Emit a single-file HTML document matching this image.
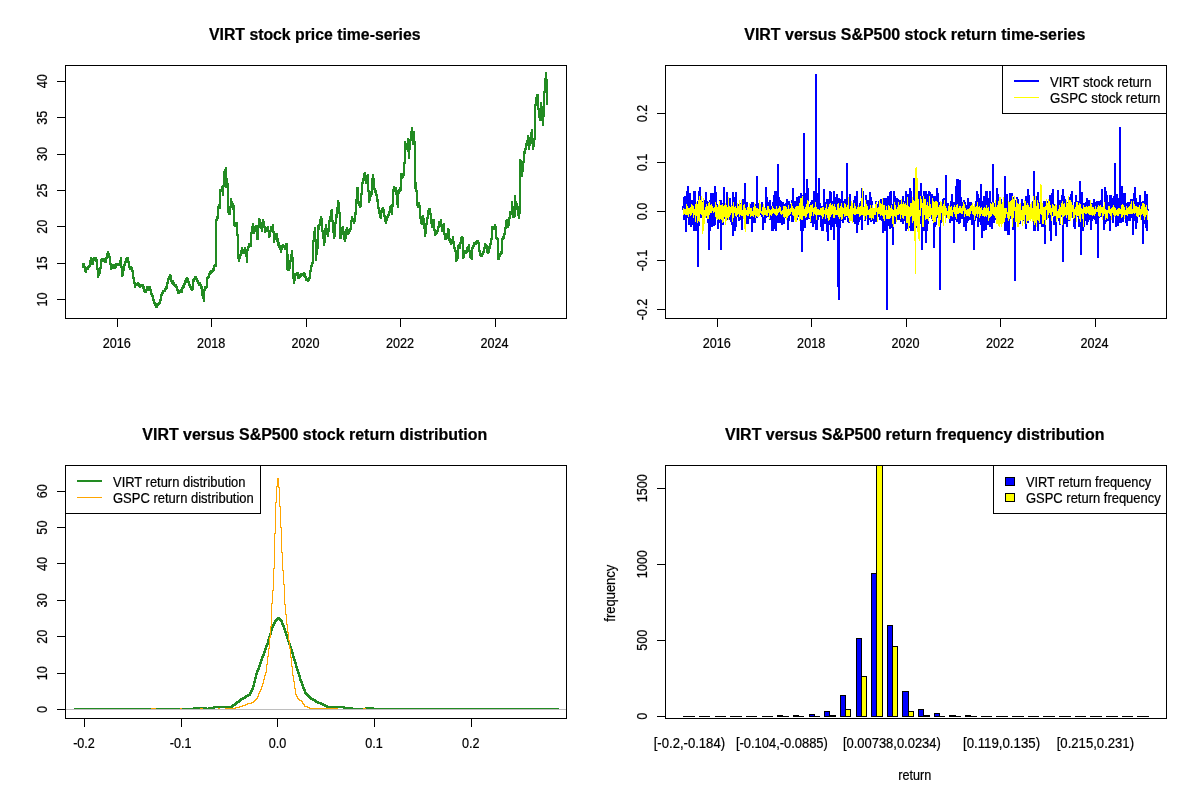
<!DOCTYPE html>
<html><head><meta charset="utf-8"><title>VIRT versus S&amp;P500</title>
<style>html,body{margin:0;padding:0;background:#fff}svg{display:block}text{font-family:'Liberation Sans', sans-serif;fill:#000;stroke:#000;stroke-width:0.22px}</style>
</head><body>
<svg width="1200" height="800" viewBox="0 0 1200 800">
<rect width="1200" height="800" fill="#fff"/>
<g shape-rendering="crispEdges">
<text x="314.8" y="39.7" text-anchor="middle" font-size="16" font-weight="bold" textLength="211.5" lengthAdjust="spacingAndGlyphs">VIRT stock price time-series</text>
<path d="M82 263v5h1v-5zM83 263v5h1v-5zM84 263v9h1v-9zM85 266v7h1v-7zM86 267v6h1v-6zM87 266v4h1v-4zM88 265v5h1v-5zM89 260v8h1v-8zM90 257v10h1v-10zM91 257v8h1v-8zM92 258v7h1v-7zM93 257v8h1v-8zM94 257v4h1v-4zM95 257v5h1v-5zM96 257v13h1v-13zM97 259v19h1v-19zM98 268v10h1v-10zM99 267v9h1v-9zM100 259v15h1v-15zM101 258v11h1v-11zM102 258v4h1v-4zM103 258v4h1v-4zM104 258v5h1v-5zM105 257v6h1v-6zM106 253v10h1v-10zM107 251v8h1v-8zM108 251v7h1v-7zM109 253v12h1v-12zM110 256v14h1v-14zM111 263v7h1v-7zM112 264v5h1v-5zM113 264v5h1v-5zM114 264v5h1v-5zM115 263v6h1v-6zM116 263v5h1v-5zM117 263v3h1v-3zM118 263v3h1v-3zM119 260v6h1v-6zM120 257v11h1v-11zM121 257v20h1v-20zM122 266v11h1v-11zM123 264v12h1v-12zM124 261v10h1v-10zM125 258v8h1v-8zM126 257v6h1v-6zM127 257v6h1v-6zM128 257v11h1v-11zM129 261v9h1v-9zM130 266v4h1v-4zM131 266v6h1v-6zM132 267v12h1v-12zM133 270v14h1v-14zM134 277v11h1v-11zM135 282v6h1v-6zM136 283v3h1v-3zM137 282v4h1v-4zM138 282v5h1v-5zM139 283v5h1v-5zM140 284v4h1v-4zM141 284v3h1v-3zM142 284v5h1v-5zM143 284v8h1v-8zM144 286v7h1v-7zM145 289v4h1v-4zM146 286v7h1v-7zM147 286v5h1v-5zM148 286v5h1v-5zM149 286v5h1v-5zM150 286v9h1v-9zM151 289v8h1v-8zM152 293v8h1v-8zM153 295v9h1v-9zM154 299v7h1v-7zM155 302v6h1v-6zM156 303v5h1v-5zM157 303v5h1v-5zM158 302v4h1v-4zM159 299v6h1v-6zM160 294v10h1v-10zM161 292v9h1v-9zM162 290v6h1v-6zM163 290v4h1v-4zM164 288v4h1v-4zM165 286v6h1v-6zM166 282v8h1v-8zM167 278v11h1v-11zM168 276v8h1v-8zM169 274v6h1v-6zM170 274v8h1v-8zM171 275v9h1v-9zM172 280v5h1v-5zM173 280v6h1v-6zM174 282v5h1v-5zM175 284v4h1v-4zM176 284v7h1v-7zM177 286v8h1v-8zM178 289v5h1v-5zM179 290v4h1v-4zM180 289v4h1v-4zM181 287v6h1v-6zM182 285v8h1v-8zM183 283v6h1v-6zM184 280v8h1v-8zM185 278v7h1v-7zM186 277v6h1v-6zM187 277v6h1v-6zM188 278v8h1v-8zM189 281v7h1v-7zM190 284v6h1v-6zM191 286v5h1v-5zM192 279v12h1v-12zM193 278v12h1v-12zM194 276v6h1v-6zM195 276v4h1v-4zM196 276v6h1v-6zM197 278v6h1v-6zM198 280v6h1v-6zM199 282v4h1v-4zM200 282v7h1v-7zM201 284v12h1v-12zM202 286v13h1v-13zM203 289v13h1v-13zM204 286v16h1v-16zM205 286v5h1v-5zM206 277v12h1v-12zM207 276v12h1v-12zM208 273v6h1v-6zM209 271v7h1v-7zM210 270v5h1v-5zM211 270v4h1v-4zM212 268v5h1v-5zM213 265v7h1v-7zM214 264v7h1v-7zM215 219v48h1v-48zM216 216v51h1v-51zM217 206v15h1v-15zM218 204v15h1v-15zM219 189v20h1v-20zM220 189v20h1v-20zM221 186v6h1v-6zM222 185v11h1v-11zM223 171v25h1v-25zM224 169v18h1v-18zM225 167v21h1v-21zM226 167v21h1v-21zM227 178v35h1v-35zM228 183v32h1v-32zM229 206v9h1v-9zM230 198v17h1v-17zM231 198v10h1v-10zM232 201v9h1v-9zM233 203v23h1v-23zM234 205v22h1v-22zM235 222v5h1v-5zM236 222v14h1v-14zM237 222v37h1v-37zM238 234v28h1v-28zM239 254v8h1v-8zM240 250v9h1v-9zM241 247v9h1v-9zM242 247v7h1v-7zM243 249v5h1v-5zM244 247v7h1v-7zM245 247v10h1v-10zM246 249v14h1v-14zM247 246v17h1v-17zM248 243v8h1v-8zM249 243v5h1v-5zM250 232v15h1v-15zM251 226v21h1v-21zM252 223v11h1v-11zM253 223v11h1v-11zM254 226v8h1v-8zM255 225v7h1v-7zM256 225v15h1v-15zM257 225v15h1v-15zM258 218v22h1v-22zM259 218v10h1v-10zM260 219v10h1v-10zM261 222v10h1v-10zM262 219v13h1v-13zM263 219v9h1v-9zM264 221v12h1v-12zM265 226v7h1v-7zM266 227v5h1v-5zM267 226v6h1v-6zM268 226v12h1v-12zM269 230v8h1v-8zM270 226v11h1v-11zM271 226v6h1v-6zM272 224v9h1v-9zM273 224v19h1v-19zM274 231v12h1v-12zM275 233v7h1v-7zM276 233v9h1v-9zM277 233v13h1v-13zM278 238v10h1v-10zM279 242v8h1v-8zM280 245v8h1v-8zM281 245v8h1v-8zM282 244v6h1v-6zM283 244v4h1v-4zM284 245v5h1v-5zM285 243v7h1v-7zM286 243v27h1v-27zM287 243v28h1v-28zM288 254v17h1v-17zM289 260v11h1v-11zM290 254v15h1v-15zM291 250v12h1v-12zM292 250v29h1v-29zM293 257v27h1v-27zM294 273v11h1v-11zM295 273v8h1v-8zM296 272v4h1v-4zM297 272v7h1v-7zM298 272v7h1v-7zM299 274v5h1v-5zM300 273v5h1v-5zM301 273v4h1v-4zM302 273v3h1v-3zM303 272v5h1v-5zM304 272v6h1v-6zM305 273v8h1v-8zM306 276v5h1v-5zM307 278v4h1v-4zM308 277v5h1v-5zM309 270v11h1v-11zM310 265v14h1v-14zM311 262v10h1v-10zM312 240v27h1v-27zM313 231v33h1v-33zM314 227v15h1v-15zM315 227v34h1v-34zM316 239v22h1v-22zM317 225v30h1v-30zM318 224v25h1v-25zM319 219v11h1v-11zM320 216v10h1v-10zM321 216v16h1v-16zM322 218v21h1v-21zM323 230v16h1v-16zM324 228v18h1v-18zM325 224v19h1v-19zM326 224v11h1v-11zM327 228v9h1v-9zM328 220v17h1v-17zM329 216v16h1v-16zM330 210v12h1v-12zM331 209v13h1v-13zM332 209v24h1v-24zM333 220v19h1v-19zM334 222v17h1v-17zM335 214v23h1v-23zM336 207v17h1v-17zM337 200v18h1v-18zM338 200v14h1v-14zM339 202v37h1v-37zM340 212v27h1v-27zM341 227v12h1v-12zM342 226v9h1v-9zM343 226v14h1v-14zM344 231v11h1v-11zM345 229v13h1v-13zM346 227v12h1v-12zM347 227v8h1v-8zM348 229v6h1v-6zM349 228v6h1v-6zM350 220v12h1v-12zM351 216v14h1v-14zM352 216v6h1v-6zM353 218v6h1v-6zM354 212v12h1v-12zM355 199v23h1v-23zM356 187v28h1v-28zM357 187v17h1v-17zM358 187v19h1v-19zM359 201v7h1v-7zM360 193v15h1v-15zM361 182v25h1v-25zM362 178v17h1v-17zM363 173v11h1v-11zM364 172v9h1v-9zM365 172v12h1v-12zM366 175v9h1v-9zM367 174v18h1v-18zM368 174v29h1v-29zM369 190v13h1v-13zM370 191v10h1v-10zM371 178v19h1v-19zM372 174v21h1v-21zM373 174v16h1v-16zM374 178v15h1v-15zM375 188v8h1v-8zM376 190v12h1v-12zM377 194v15h1v-15zM378 199v15h1v-15zM379 207v11h1v-11zM380 210v9h1v-9zM381 208v11h1v-11zM382 207v6h1v-6zM383 207v10h1v-10zM384 209v13h1v-13zM385 215v9h1v-9zM386 216v8h1v-8zM387 214v7h1v-7zM388 211v7h1v-7zM389 206v10h1v-10zM390 205v8h1v-8zM391 204v11h1v-11zM392 189v26h1v-26zM393 186v21h1v-21zM394 186v6h1v-6zM395 187v8h1v-8zM396 187v18h1v-18zM397 190v18h1v-18zM398 189v19h1v-19zM399 187v7h1v-7zM400 173v19h1v-19zM401 173v18h1v-18zM402 173v6h1v-6zM403 162v16h1v-16zM404 141v35h1v-35zM405 141v23h1v-23zM406 143v7h1v-7zM407 138v14h1v-14zM408 138v21h1v-21zM409 139v20h1v-20zM410 131v19h1v-19zM411 127v14h1v-14zM412 127v18h1v-18zM413 131v14h1v-14zM414 131v58h1v-58zM415 141v51h1v-51zM416 182v24h1v-24zM417 190v18h1v-18zM418 202v6h1v-6zM419 202v17h1v-17zM420 205v19h1v-19zM421 216v9h1v-9zM422 215v10h1v-10zM423 215v14h1v-14zM424 218v19h1v-19zM425 223v14h1v-14zM426 217v17h1v-17zM427 210v15h1v-15zM428 208v11h1v-11zM429 208v7h1v-7zM430 208v16h1v-16zM431 213v15h1v-15zM432 219v9h1v-9zM433 219v12h1v-12zM434 219v17h1v-17zM435 229v7h1v-7zM436 230v5h1v-5zM437 226v8h1v-8zM438 221v11h1v-11zM439 221v7h1v-7zM440 219v8h1v-8zM441 219v13h1v-13zM442 224v8h1v-8zM443 223v12h1v-12zM444 223v17h1v-17zM445 233v7h1v-7zM446 233v7h1v-7zM447 228v11h1v-11zM448 228v13h1v-13zM449 229v14h1v-14zM450 238v7h1v-7zM451 239v6h1v-6zM452 236v8h1v-8zM453 236v13h1v-13zM454 241v11h1v-11zM455 247v15h1v-15zM456 250v12h1v-12zM457 245v16h1v-16zM458 244v15h1v-15zM459 242v7h1v-7zM460 237v12h1v-12zM461 236v8h1v-8zM462 236v23h1v-23zM463 237v22h1v-22zM464 250v8h1v-8zM465 250v4h1v-4zM466 247v7h1v-7zM467 246v7h1v-7zM468 244v8h1v-8zM469 244v14h1v-14zM470 250v9h1v-9zM471 247v13h1v-13zM472 245v15h1v-15zM473 242v7h1v-7zM474 242v5h1v-5zM475 241v4h1v-4zM476 240v5h1v-5zM477 240v4h1v-4zM478 240v12h1v-12zM479 242v14h1v-14zM480 250v7h1v-7zM481 253v4h1v-4zM482 251v6h1v-6zM483 247v8h1v-8zM484 243v10h1v-10zM485 243v6h1v-6zM486 244v9h1v-9zM487 245v9h1v-9zM488 246v8h1v-8zM489 243v10h1v-10zM490 238v11h1v-11zM491 226v19h1v-19zM492 226v14h1v-14zM493 226v4h1v-4zM494 224v6h1v-6zM495 224v15h1v-15zM496 226v14h1v-14zM497 237v23h1v-23zM498 238v22h1v-22zM499 253v7h1v-7zM500 251v6h1v-6zM501 238v17h1v-17zM502 236v18h1v-18zM503 233v7h1v-7zM504 227v12h1v-12zM505 220v15h1v-15zM506 219v10h1v-10zM507 219v9h1v-9zM508 217v11h1v-11zM509 211v15h1v-15zM510 211v8h1v-8zM511 201v14h1v-14zM512 201v17h1v-17zM513 206v12h1v-12zM514 195v23h1v-23zM515 195v22h1v-22zM516 201v9h1v-9zM517 203v13h1v-13zM518 206v13h1v-13zM519 159v60h1v-60zM520 159v55h1v-55zM521 160v17h1v-17zM522 161v16h1v-16zM523 151v21h1v-21zM524 148v15h1v-15zM525 143v11h1v-11zM526 140v10h1v-10zM527 135v11h1v-11zM528 135v15h1v-15zM529 137v13h1v-13zM530 132v14h1v-14zM531 129v15h1v-15zM532 129v21h1v-21zM533 138v12h1v-12zM534 104v43h1v-43zM535 97v43h1v-43zM536 94v12h1v-12zM537 94v16h1v-16zM538 94v24h1v-24zM539 108v13h1v-13zM540 102v19h1v-19zM541 102v19h1v-19zM542 106v20h1v-20zM543 91v35h1v-35zM544 78v39h1v-39zM545 72v21h1v-21zM546 72v33h1v-33zM547 79v26h1v-26z" fill="#228B22"/>
<rect x="65.5" y="65.5" width="501" height="253" fill="none" stroke="#000" stroke-width="1"/>
<line x1="117.5" y1="319" x2="117.5" y2="327" stroke="#000"/>
<text transform="translate(116.7,348) scale(0.915,1)" text-anchor="middle" font-size="13.8">2016</text>
<line x1="211.5" y1="319" x2="211.5" y2="327" stroke="#000"/>
<text transform="translate(211.15,348) scale(0.915,1)" text-anchor="middle" font-size="13.8">2018</text>
<line x1="306.5" y1="319" x2="306.5" y2="327" stroke="#000"/>
<text transform="translate(305.6,348) scale(0.915,1)" text-anchor="middle" font-size="13.8">2020</text>
<line x1="400.5" y1="319" x2="400.5" y2="327" stroke="#000"/>
<text transform="translate(400.05,348) scale(0.915,1)" text-anchor="middle" font-size="13.8">2022</text>
<line x1="495.5" y1="319" x2="495.5" y2="327" stroke="#000"/>
<text transform="translate(494.5,348) scale(0.915,1)" text-anchor="middle" font-size="13.8">2024</text>
<line x1="57" y1="299.5" x2="65" y2="299.5" stroke="#000"/>
<text transform="translate(47,299.5) rotate(-90) scale(0.915,1)" text-anchor="middle" font-size="13.8">10</text>
<line x1="57" y1="263.5" x2="65" y2="263.5" stroke="#000"/>
<text transform="translate(47,263.125) rotate(-90) scale(0.915,1)" text-anchor="middle" font-size="13.8">15</text>
<line x1="57" y1="226.5" x2="65" y2="226.5" stroke="#000"/>
<text transform="translate(47,226.75) rotate(-90) scale(0.915,1)" text-anchor="middle" font-size="13.8">20</text>
<line x1="57" y1="190.5" x2="65" y2="190.5" stroke="#000"/>
<text transform="translate(47,190.375) rotate(-90) scale(0.915,1)" text-anchor="middle" font-size="13.8">25</text>
<line x1="57" y1="154.5" x2="65" y2="154.5" stroke="#000"/>
<text transform="translate(47,154.0) rotate(-90) scale(0.915,1)" text-anchor="middle" font-size="13.8">30</text>
<line x1="57" y1="117.5" x2="65" y2="117.5" stroke="#000"/>
<text transform="translate(47,117.625) rotate(-90) scale(0.915,1)" text-anchor="middle" font-size="13.8">35</text>
<line x1="57" y1="81.5" x2="65" y2="81.5" stroke="#000"/>
<text transform="translate(47,81.25) rotate(-90) scale(0.915,1)" text-anchor="middle" font-size="13.8">40</text>
<text x="914.8" y="39.7" text-anchor="middle" font-size="16" font-weight="bold" textLength="341" lengthAdjust="spacingAndGlyphs">VIRT versus S&amp;P500 stock return time-series</text>
<path d="M682 206v4h1v-4zM683 197v23h1v-23zM684 196v24h1v-24zM685 196v36h1v-36zM686 191v41h1v-41zM687 186v32h1v-32zM688 186v39h1v-39zM689 193v32h1v-32zM690 193v34h1v-34zM691 200v27h1v-27zM692 200v25h1v-25zM693 191v40h1v-40zM694 191v40h1v-40zM695 191v40h1v-40zM696 204v27h1v-27zM697 201v66h1v-66zM698 191v76h1v-76zM699 187v39h1v-39zM700 187v31h1v-31zM701 196v22h1v-22zM702 201v25h1v-25zM703 200v26h1v-26zM704 200v20h1v-20zM705 192v26h1v-26zM706 192v26h1v-26zM707 201v22h1v-22zM708 202v48h1v-48zM709 200v50h1v-50zM710 193v38h1v-38zM711 193v34h1v-34zM712 193v34h1v-34zM713 193v33h1v-33zM714 186v40h1v-40zM715 186v39h1v-39zM716 192v26h1v-26zM717 204v25h1v-25zM718 205v24h1v-24zM719 200v23h1v-23zM720 200v50h1v-50zM721 200v50h1v-50zM722 203v22h1v-22zM723 187v38h1v-38zM724 187v32h1v-32zM725 205v14h1v-14zM726 192v28h1v-28zM727 192v28h1v-28zM728 200v19h1v-19zM729 198v22h1v-22zM730 198v24h1v-24zM731 206v19h1v-19zM732 192v44h1v-44zM733 192v44h1v-44zM734 197v34h1v-34zM735 192v39h1v-39zM736 192v35h1v-35zM737 203v14h1v-14zM738 204v17h1v-17zM739 204v17h1v-17zM740 203v17h1v-17zM741 202v28h1v-28zM742 199v31h1v-31zM743 199v13h1v-13zM744 183v44h1v-44zM745 183v44h1v-44zM746 202v22h1v-22zM747 202v22h1v-22zM748 208v16h1v-16zM749 204v15h1v-15zM750 204v15h1v-15zM751 202v30h1v-30zM752 202v30h1v-30zM753 202v21h1v-21zM754 205v18h1v-18zM755 204v19h1v-19zM756 176v42h1v-42zM757 176v42h1v-42zM758 203v12h1v-12zM759 204v11h1v-11zM760 204v11h1v-11zM761 202v15h1v-15zM762 202v28h1v-28zM763 208v22h1v-22zM764 207v16h1v-16zM765 187v36h1v-36zM766 187v31h1v-31zM767 197v20h1v-20zM768 202v15h1v-15zM769 200v20h1v-20zM770 200v20h1v-20zM771 206v25h1v-25zM772 202v29h1v-29zM773 195v36h1v-36zM774 191v38h1v-38zM775 191v40h1v-40zM776 191v40h1v-40zM777 164v59h1v-59zM778 164v59h1v-59zM779 197v26h1v-26zM780 200v23h1v-23zM781 201v24h1v-24zM782 202v23h1v-23zM783 202v22h1v-22zM784 204v20h1v-20zM785 203v15h1v-15zM786 199v16h1v-16zM787 199v31h1v-31zM788 201v29h1v-29zM789 201v20h1v-20zM790 204v12h1v-12zM791 200v22h1v-22zM792 188v34h1v-34zM793 188v34h1v-34zM794 201v17h1v-17zM795 201v17h1v-17zM796 197v23h1v-23zM797 197v23h1v-23zM798 196v21h1v-21zM799 196v23h1v-23zM800 193v38h1v-38zM801 193v59h1v-59zM802 195v57h1v-57zM803 133v98h1v-98zM804 133v95h1v-95zM805 193v35h1v-35zM806 179v41h1v-41zM807 179v41h1v-41zM808 188v31h1v-31zM809 204v15h1v-15zM810 202v21h1v-21zM811 200v23h1v-23zM812 200v27h1v-27zM813 191v36h1v-36zM814 191v33h1v-33zM815 74v156h1v-156zM816 74v156h1v-156zM817 193v37h1v-37zM818 178v42h1v-42zM819 178v39h1v-39zM820 203v24h1v-24zM821 206v25h1v-25zM822 206v25h1v-25zM823 189v42h1v-42zM824 189v35h1v-35zM825 202v22h1v-22zM826 199v33h1v-33zM827 199v42h1v-42zM828 199v42h1v-42zM829 191v34h1v-34zM830 191v39h1v-39zM831 192v38h1v-38zM832 201v26h1v-26zM833 191v49h1v-49zM834 191v49h1v-49zM835 197v27h1v-27zM836 194v33h1v-33zM837 194v93h1v-93zM838 198v102h1v-102zM839 198v102h1v-102zM840 199v29h1v-29zM841 191v30h1v-30zM842 191v32h1v-32zM843 201v22h1v-22zM844 199v21h1v-21zM845 199v21h1v-21zM846 163v54h1v-54zM847 163v59h1v-59zM848 198v25h1v-25zM849 194v29h1v-29zM850 194v27h1v-27zM851 202v19h1v-19zM852 203v18h1v-18zM853 200v22h1v-22zM854 196v28h1v-28zM855 196v28h1v-28zM856 191v42h1v-42zM857 191v42h1v-42zM858 205v20h1v-20zM859 203v19h1v-19zM860 201v19h1v-19zM861 188v42h1v-42zM862 188v42h1v-42zM863 191v25h1v-25zM864 209v12h1v-12zM865 195v26h1v-26zM866 195v24h1v-24zM867 200v25h1v-25zM868 200v25h1v-25zM869 192v28h1v-28zM870 192v30h1v-30zM871 197v25h1v-25zM872 201v20h1v-20zM873 208v16h1v-16zM874 208v16h1v-16zM875 201v21h1v-21zM876 201v21h1v-21zM877 204v14h1v-14zM878 201v16h1v-16zM879 201v19h1v-19zM880 199v21h1v-21zM881 199v22h1v-22zM882 205v28h1v-28zM883 198v35h1v-35zM884 198v33h1v-33zM885 198v33h1v-33zM886 198v112h1v-112zM887 196v114h1v-114zM888 196v30h1v-30zM889 192v37h1v-37zM890 191v38h1v-38zM891 191v37h1v-37zM892 204v41h1v-41zM893 191v54h1v-54zM894 191v33h1v-33zM895 196v28h1v-28zM896 198v17h1v-17zM897 198v22h1v-22zM898 199v21h1v-21zM899 200v20h1v-20zM900 200v22h1v-22zM901 204v18h1v-18zM902 196v28h1v-28zM903 196v28h1v-28zM904 201v20h1v-20zM905 191v40h1v-40zM906 191v40h1v-40zM907 194v35h1v-35zM908 194v35h1v-35zM909 188v40h1v-40zM910 188v43h1v-43zM911 191v40h1v-40zM912 198v33h1v-33zM913 178v53h1v-53zM914 178v53h1v-53zM915 191v40h1v-40zM916 191v37h1v-37zM917 196v35h1v-35zM918 191v40h1v-40zM919 191v40h1v-40zM920 183v41h1v-41zM921 183v67h1v-67zM922 196v54h1v-54zM923 191v40h1v-40zM924 191v40h1v-40zM925 191v52h1v-52zM926 191v52h1v-52zM927 194v37h1v-37zM928 191v33h1v-33zM929 191v27h1v-27zM930 192v23h1v-23zM931 194v25h1v-25zM932 194v27h1v-27zM933 196v52h1v-52zM934 196v52h1v-52zM935 196v31h1v-31zM936 188v37h1v-37zM937 188v30h1v-30zM938 193v27h1v-27zM939 202v88h1v-88zM940 206v84h1v-84zM941 206v17h1v-17zM942 199v23h1v-23zM943 198v20h1v-20zM944 198v17h1v-17zM945 175v43h1v-43zM946 175v43h1v-43zM947 203v15h1v-15zM948 203v15h1v-15zM949 205v18h1v-18zM950 201v22h1v-22zM951 194v27h1v-27zM952 194v27h1v-27zM953 202v41h1v-41zM954 202v41h1v-41zM955 186v34h1v-34zM956 179v43h1v-43zM957 179v43h1v-43zM958 179v45h1v-45zM959 180v44h1v-44zM960 180v43h1v-43zM961 197v22h1v-22zM962 202v17h1v-17zM963 200v27h1v-27zM964 200v27h1v-27zM965 202v29h1v-29zM966 205v26h1v-26zM967 198v25h1v-25zM968 198v23h1v-23zM969 202v18h1v-18zM970 202v18h1v-18zM971 202v23h1v-23zM972 203v22h1v-22zM973 207v43h1v-43zM974 205v45h1v-45zM975 201v20h1v-20zM976 191v27h1v-27zM977 191v36h1v-36zM978 194v33h1v-33zM979 198v24h1v-24zM980 184v41h1v-41zM981 184v54h1v-54zM982 201v37h1v-37zM983 196v35h1v-35zM984 196v35h1v-35zM985 191v39h1v-39zM986 191v39h1v-39zM987 191v34h1v-34zM988 198v27h1v-27zM989 191v36h1v-36zM990 191v36h1v-36zM991 202v27h1v-27zM992 164v65h1v-65zM993 164v59h1v-59zM994 203v20h1v-20zM995 203v17h1v-17zM996 188v32h1v-32zM997 188v29h1v-29zM998 194v23h1v-23zM999 200v17h1v-17zM1000 199v18h1v-18zM1001 199v24h1v-24zM1002 203v20h1v-20zM1003 202v20h1v-20zM1004 176v55h1v-55zM1005 176v55h1v-55zM1006 194v37h1v-37zM1007 194v41h1v-41zM1008 201v34h1v-34zM1009 193v42h1v-42zM1010 193v26h1v-26zM1011 193v26h1v-26zM1012 193v37h1v-37zM1013 197v33h1v-33zM1014 197v84h1v-84zM1015 200v81h1v-81zM1016 197v24h1v-24zM1017 197v24h1v-24zM1018 199v17h1v-17zM1019 204v20h1v-20zM1020 203v21h1v-21zM1021 199v20h1v-20zM1022 199v20h1v-20zM1023 203v18h1v-18zM1024 203v21h1v-21zM1025 196v33h1v-33zM1026 196v33h1v-33zM1027 189v34h1v-34zM1028 189v34h1v-34zM1029 195v24h1v-24zM1030 204v15h1v-15zM1031 202v15h1v-15zM1032 201v19h1v-19zM1033 171v60h1v-60zM1034 171v60h1v-60zM1035 196v35h1v-35zM1036 196v23h1v-23zM1037 192v39h1v-39zM1038 192v39h1v-39zM1039 202v22h1v-22zM1040 200v24h1v-24zM1041 200v27h1v-27zM1042 203v24h1v-24zM1043 201v26h1v-26zM1044 201v43h1v-43zM1045 201v43h1v-43zM1046 201v19h1v-19zM1047 201v15h1v-15zM1048 202v16h1v-16zM1049 195v36h1v-36zM1050 195v46h1v-46zM1051 193v48h1v-48zM1052 189v27h1v-27zM1053 189v36h1v-36zM1054 204v21h1v-21zM1055 205v31h1v-31zM1056 205v31h1v-31zM1057 190v26h1v-26zM1058 190v31h1v-31zM1059 200v25h1v-25zM1060 200v25h1v-25zM1061 195v22h1v-22zM1062 189v73h1v-73zM1063 189v73h1v-73zM1064 196v28h1v-28zM1065 199v25h1v-25zM1066 206v21h1v-21zM1067 202v25h1v-25zM1068 200v21h1v-21zM1069 197v24h1v-24zM1070 194v24h1v-24zM1071 191v27h1v-27zM1072 191v27h1v-27zM1073 207v20h1v-20zM1074 202v27h1v-27zM1075 195v34h1v-34zM1076 195v25h1v-25zM1077 201v16h1v-16zM1078 201v26h1v-26zM1079 181v46h1v-46zM1080 181v74h1v-74zM1081 192v63h1v-63zM1082 192v39h1v-39zM1083 203v28h1v-28zM1084 203v24h1v-24zM1085 202v19h1v-19zM1086 198v27h1v-27zM1087 198v27h1v-27zM1088 200v22h1v-22zM1089 200v20h1v-20zM1090 206v24h1v-24zM1091 203v27h1v-27zM1092 203v18h1v-18zM1093 199v20h1v-20zM1094 199v21h1v-21zM1095 202v22h1v-22zM1096 201v23h1v-23zM1097 201v57h1v-57zM1098 201v57h1v-57zM1099 201v17h1v-17zM1100 200v17h1v-17zM1101 189v28h1v-28zM1102 189v27h1v-27zM1103 206v24h1v-24zM1104 187v43h1v-43zM1105 187v37h1v-37zM1106 191v31h1v-31zM1107 195v26h1v-26zM1108 202v19h1v-19zM1109 195v36h1v-36zM1110 195v36h1v-36zM1111 195v25h1v-25zM1112 198v25h1v-25zM1113 196v27h1v-27zM1114 163v54h1v-54zM1115 163v64h1v-64zM1116 194v33h1v-33zM1117 194v32h1v-32zM1118 198v28h1v-28zM1119 127v96h1v-96zM1120 127v96h1v-96zM1121 186v37h1v-37zM1122 186v36h1v-36zM1123 193v29h1v-29zM1124 193v25h1v-25zM1125 193v30h1v-30zM1126 203v23h1v-23zM1127 202v24h1v-24zM1128 202v19h1v-19zM1129 202v19h1v-19zM1130 199v22h1v-22zM1131 199v19h1v-19zM1132 199v36h1v-36zM1133 193v42h1v-42zM1134 187v34h1v-34zM1135 187v42h1v-42zM1136 198v31h1v-31zM1137 202v21h1v-21zM1138 202v15h1v-15zM1139 195v22h1v-22zM1140 195v21h1v-21zM1141 202v18h1v-18zM1142 201v43h1v-43zM1143 201v43h1v-43zM1144 191v33h1v-33zM1145 191v37h1v-37zM1146 194v37h1v-37zM1147 194v37h1v-37zM1148 209v2h1v-2z" fill="#0000FF"/>
<path d="M683 208v7h1v-7zM684 209v5h1v-5zM685 209v6h1v-6zM686 204v11h1v-11zM687 206v9h1v-9zM688 208v9h1v-9zM689 208v6h1v-6zM690 207v9h1v-9zM691 204v11h1v-11zM692 205v8h1v-8zM693 206v12h1v-12zM694 209v6h1v-6zM695 204v18h1v-18zM696 202v14h1v-14zM697 204v19h1v-19zM698 200v21h1v-21zM699 196v26h1v-26zM700 200v14h1v-14zM701 196v19h1v-19zM702 202v32h1v-32zM703 198v33h1v-33zM704 210v14h1v-14zM705 207v11h1v-11zM706 204v12h1v-12zM707 206v13h1v-13zM708 203v16h1v-16zM709 202v13h1v-13zM710 205v8h1v-8zM711 204v9h1v-9zM712 206v5h1v-5zM713 208v5h1v-5zM714 207v5h1v-5zM715 202v15h1v-15zM716 205v14h1v-14zM717 207v13h1v-13zM718 205v14h1v-14zM719 201v19h1v-19zM720 205v14h1v-14zM721 205v15h1v-15zM722 204v19h1v-19zM723 206v16h1v-16zM724 205v12h1v-12zM725 203v22h1v-22zM726 205v16h1v-16zM727 207v11h1v-11zM728 197v23h1v-23zM729 206v11h1v-11zM730 207v8h1v-8zM731 205v8h1v-8zM732 206v16h1v-16zM733 202v16h1v-16zM734 207v6h1v-6zM735 206v10h1v-10zM736 208v9h1v-9zM737 203v12h1v-12zM738 206v8h1v-8zM739 200v17h1v-17zM740 204v11h1v-11zM741 200v16h1v-16zM742 210v6h1v-6zM743 205v14h1v-14zM744 204v25h1v-25zM745 208v24h1v-24zM746 210v5h1v-5zM747 207v9h1v-9zM748 207v9h1v-9zM749 203v11h1v-11zM750 208v9h1v-9zM751 208v8h1v-8zM752 211v5h1v-5zM753 207v10h1v-10zM754 203v12h1v-12zM755 206v12h1v-12zM756 208v8h1v-8zM757 208v9h1v-9zM758 209v8h1v-8zM759 200v16h1v-16zM760 204v9h1v-9zM761 211v3h1v-3zM762 207v8h1v-8zM763 204v13h1v-13zM764 207v8h1v-8zM765 208v7h1v-7zM766 210v6h1v-6zM767 206v10h1v-10zM768 206v7h1v-7zM769 209v10h1v-10zM770 210v5h1v-5zM771 209v7h1v-7zM772 206v8h1v-8zM773 208v5h1v-5zM774 209v5h1v-5zM775 209v6h1v-6zM776 206v10h1v-10zM777 209v6h1v-6zM778 208v5h1v-5zM779 206v6h1v-6zM780 207v7h1v-7zM781 211v4h1v-4zM782 210v4h1v-4zM783 206v11h1v-11zM784 206v12h1v-12zM785 206v11h1v-11zM786 207v13h1v-13zM787 209v9h1v-9zM788 205v11h1v-11zM789 209v6h1v-6zM790 208v6h1v-6zM791 203v9h1v-9zM792 206v9h1v-9zM793 208v8h1v-8zM794 209v11h1v-11zM795 207v15h1v-15zM796 206v16h1v-16zM797 206v12h1v-12zM798 206v9h1v-9zM799 203v18h1v-18zM800 198v21h1v-21zM801 198v22h1v-22zM802 196v24h1v-24zM803 206v10h1v-10zM804 209v7h1v-7zM805 207v11h1v-11zM806 204v13h1v-13zM807 200v14h1v-14zM808 201v12h1v-12zM809 207v11h1v-11zM810 205v17h1v-17zM811 205v11h1v-11zM812 204v8h1v-8zM813 208v8h1v-8zM814 207v7h1v-7zM815 202v13h1v-13zM816 207v13h1v-13zM817 209v6h1v-6zM818 209v6h1v-6zM819 210v5h1v-5zM820 208v7h1v-7zM821 208v8h1v-8zM822 207v12h1v-12zM823 207v10h1v-10zM824 210v4h1v-4zM825 208v11h1v-11zM826 204v11h1v-11zM827 209v9h1v-9zM828 207v14h1v-14zM829 204v16h1v-16zM830 203v14h1v-14zM831 205v10h1v-10zM832 204v10h1v-10zM833 206v12h1v-12zM834 204v14h1v-14zM835 207v8h1v-8zM836 210v5h1v-5zM837 204v11h1v-11zM838 203v14h1v-14zM839 208v11h1v-11zM840 206v11h1v-11zM841 203v17h1v-17zM842 207v12h1v-12zM843 208v6h1v-6zM844 203v14h1v-14zM845 204v12h1v-12zM846 207v9h1v-9zM847 205v11h1v-11zM848 197v21h1v-21zM849 209v13h1v-13zM850 206v15h1v-15zM851 201v20h1v-20zM852 203v20h1v-20zM853 208v6h1v-6zM854 203v12h1v-12zM855 206v9h1v-9zM856 209v5h1v-5zM857 207v7h1v-7zM858 205v9h1v-9zM859 207v10h1v-10zM860 206v10h1v-10zM861 198v17h1v-17zM862 188v27h1v-27zM863 207v9h1v-9zM864 206v14h1v-14zM865 200v16h1v-16zM866 204v15h1v-15zM867 206v9h1v-9zM868 210v5h1v-5zM869 209v9h1v-9zM870 205v13h1v-13zM871 208v12h1v-12zM872 205v13h1v-13zM873 208v11h1v-11zM874 208v7h1v-7zM875 204v11h1v-11zM876 202v10h1v-10zM877 208v14h1v-14zM878 207v7h1v-7zM879 200v14h1v-14zM880 203v13h1v-13zM881 204v11h1v-11zM882 198v18h1v-18zM883 205v14h1v-14zM884 205v16h1v-16zM885 210v5h1v-5zM886 206v13h1v-13zM887 210v9h1v-9zM888 205v14h1v-14zM889 206v13h1v-13zM890 208v10h1v-10zM891 205v11h1v-11zM892 209v15h1v-15zM893 210v17h1v-17zM894 202v14h1v-14zM895 205v12h1v-12zM896 209v13h1v-13zM897 207v8h1v-8zM898 202v13h1v-13zM899 205v9h1v-9zM900 204v15h1v-15zM901 199v16h1v-16zM902 204v14h1v-14zM903 202v17h1v-17zM904 204v12h1v-12zM905 203v13h1v-13zM906 205v18h1v-18zM907 197v26h1v-26zM908 206v25h1v-25zM909 207v19h1v-19zM910 203v14h1v-14zM911 203v13h1v-13zM912 197v26h1v-26zM913 200v21h1v-21zM914 201v40h1v-40zM915 168v106h1v-106zM916 167v59h1v-59zM917 178v54h1v-54zM918 199v40h1v-40zM919 210v31h1v-31zM920 196v20h1v-20zM921 199v9h1v-9zM922 203v24h1v-24zM923 196v31h1v-31zM924 199v16h1v-16zM925 199v21h1v-21zM926 205v14h1v-14zM927 202v17h1v-17zM928 206v15h1v-15zM929 196v21h1v-21zM930 204v13h1v-13zM931 208v7h1v-7zM932 198v22h1v-22zM933 201v22h1v-22zM934 202v20h1v-20zM935 201v21h1v-21zM936 201v16h1v-16zM937 202v13h1v-13zM938 207v19h1v-19zM939 205v22h1v-22zM940 201v19h1v-19zM941 202v11h1v-11zM942 206v16h1v-16zM943 204v22h1v-22zM944 200v16h1v-16zM945 206v17h1v-17zM946 208v7h1v-7zM947 211v7h1v-7zM948 206v13h1v-13zM949 205v14h1v-14zM950 207v9h1v-9zM951 206v10h1v-10zM952 210v7h1v-7zM953 207v5h1v-5zM954 205v9h1v-9zM955 207v10h1v-10zM956 205v14h1v-14zM957 204v10h1v-10zM958 208v6h1v-6zM959 206v7h1v-7zM960 206v7h1v-7zM961 208v6h1v-6zM962 206v8h1v-8zM963 202v9h1v-9zM964 204v13h1v-13zM965 208v6h1v-6zM966 210v6h1v-6zM967 209v7h1v-7zM968 209v7h1v-7zM969 208v9h1v-9zM970 206v8h1v-8zM971 205v6h1v-6zM972 203v11h1v-11zM973 206v9h1v-9zM974 204v16h1v-16zM975 207v9h1v-9zM976 206v8h1v-8zM977 202v15h1v-15zM978 207v7h1v-7zM979 206v12h1v-12zM980 208v8h1v-8zM981 207v7h1v-7zM982 210v6h1v-6zM983 208v8h1v-8zM984 207v10h1v-10zM985 208v8h1v-8zM986 205v12h1v-12zM987 208v7h1v-7zM988 207v14h1v-14zM989 211v7h1v-7zM990 203v14h1v-14zM991 204v12h1v-12zM992 202v12h1v-12zM993 203v12h1v-12zM994 207v9h1v-9zM995 200v18h1v-18zM996 207v17h1v-17zM997 205v19h1v-19zM998 201v25h1v-25zM999 197v30h1v-30zM1000 197v27h1v-27zM1001 204v23h1v-23zM1002 202v22h1v-22zM1003 197v26h1v-26zM1004 208v14h1v-14zM1005 208v10h1v-10zM1006 208v6h1v-6zM1007 212v6h1v-6zM1008 201v20h1v-20zM1009 202v17h1v-17zM1010 201v15h1v-15zM1011 200v19h1v-19zM1012 196v31h1v-31zM1013 199v19h1v-19zM1014 196v15h1v-15zM1015 207v15h1v-15zM1016 199v23h1v-23zM1017 203v24h1v-24zM1018 204v23h1v-23zM1019 204v19h1v-19zM1020 203v18h1v-18zM1021 210v10h1v-10zM1022 206v20h1v-20zM1023 206v14h1v-14zM1024 200v24h1v-24zM1025 201v14h1v-14zM1026 205v19h1v-19zM1027 203v18h1v-18zM1028 205v16h1v-16zM1029 207v13h1v-13zM1030 204v17h1v-17zM1031 202v17h1v-17zM1032 208v14h1v-14zM1033 196v25h1v-25zM1034 200v25h1v-25zM1035 196v27h1v-27zM1036 206v21h1v-21zM1037 200v20h1v-20zM1038 203v18h1v-18zM1039 209v14h1v-14zM1040 184v30h1v-30zM1041 185v30h1v-30zM1042 203v21h1v-21zM1043 207v17h1v-17zM1044 207v13h1v-13zM1045 206v19h1v-19zM1046 199v11h1v-11zM1047 203v16h1v-16zM1048 199v16h1v-16zM1049 201v12h1v-12zM1050 205v10h1v-10zM1051 208v13h1v-13zM1052 204v8h1v-8zM1053 205v12h1v-12zM1054 206v10h1v-10zM1055 204v12h1v-12zM1056 205v17h1v-17zM1057 211v8h1v-8zM1058 209v9h1v-9zM1059 205v13h1v-13zM1060 207v17h1v-17zM1061 203v12h1v-12zM1062 201v24h1v-24zM1063 204v13h1v-13zM1064 203v13h1v-13zM1065 207v8h1v-8zM1066 200v18h1v-18zM1067 203v12h1v-12zM1068 196v24h1v-24zM1069 200v20h1v-20zM1070 200v21h1v-21zM1071 202v16h1v-16zM1072 205v7h1v-7zM1073 205v14h1v-14zM1074 209v9h1v-9zM1075 207v8h1v-8zM1076 202v20h1v-20zM1077 202v14h1v-14zM1078 205v11h1v-11zM1079 203v16h1v-16zM1080 204v18h1v-18zM1081 208v6h1v-6zM1082 209v10h1v-10zM1083 205v22h1v-22zM1084 207v6h1v-6zM1085 207v7h1v-7zM1086 206v8h1v-8zM1087 207v6h1v-6zM1088 206v8h1v-8zM1089 206v9h1v-9zM1090 200v15h1v-15zM1091 204v11h1v-11zM1092 207v9h1v-9zM1093 207v8h1v-8zM1094 209v7h1v-7zM1095 206v8h1v-8zM1096 209v3h1v-3zM1097 207v5h1v-5zM1098 205v11h1v-11zM1099 206v11h1v-11zM1100 205v11h1v-11zM1101 207v6h1v-6zM1102 207v13h1v-13zM1103 206v10h1v-10zM1104 202v12h1v-12zM1105 209v11h1v-11zM1106 210v8h1v-8zM1107 210v9h1v-9zM1108 206v7h1v-7zM1109 206v8h1v-8zM1110 209v7h1v-7zM1111 208v12h1v-12zM1112 207v6h1v-6zM1113 205v10h1v-10zM1114 207v10h1v-10zM1115 208v8h1v-8zM1116 210v5h1v-5zM1117 209v7h1v-7zM1118 208v8h1v-8zM1119 208v6h1v-6zM1120 209v5h1v-5zM1121 205v13h1v-13zM1122 204v13h1v-13zM1123 205v10h1v-10zM1124 207v12h1v-12zM1125 210v5h1v-5zM1126 206v9h1v-9zM1127 208v8h1v-8zM1128 207v7h1v-7zM1129 206v8h1v-8zM1130 204v10h1v-10zM1131 201v13h1v-13zM1132 209v5h1v-5zM1133 201v12h1v-12zM1134 204v10h1v-10zM1135 206v7h1v-7zM1136 206v10h1v-10zM1137 207v10h1v-10zM1138 207v10h1v-10zM1139 205v10h1v-10zM1140 209v11h1v-11zM1141 206v9h1v-9zM1142 203v11h1v-11zM1143 203v13h1v-13zM1144 204v16h1v-16zM1145 207v10h1v-10zM1146 205v10h1v-10zM1147 210v10h1v-10z" fill="#FFFF00"/>
<rect x="665.5" y="65.5" width="501" height="253" fill="none" stroke="#000" stroke-width="1"/>
<line x1="717.5" y1="319" x2="717.5" y2="327" stroke="#000"/>
<text transform="translate(716.7,348) scale(0.915,1)" text-anchor="middle" font-size="13.8">2016</text>
<line x1="811.5" y1="319" x2="811.5" y2="327" stroke="#000"/>
<text transform="translate(811.1500000000001,348) scale(0.915,1)" text-anchor="middle" font-size="13.8">2018</text>
<line x1="906.5" y1="319" x2="906.5" y2="327" stroke="#000"/>
<text transform="translate(905.6,348) scale(0.915,1)" text-anchor="middle" font-size="13.8">2020</text>
<line x1="1000.5" y1="319" x2="1000.5" y2="327" stroke="#000"/>
<text transform="translate(1000.0500000000001,348) scale(0.915,1)" text-anchor="middle" font-size="13.8">2022</text>
<line x1="1095.5" y1="319" x2="1095.5" y2="327" stroke="#000"/>
<text transform="translate(1094.5,348) scale(0.915,1)" text-anchor="middle" font-size="13.8">2024</text>
<line x1="657" y1="309.5" x2="665" y2="309.5" stroke="#000"/>
<text transform="translate(647,309.5) rotate(-90) scale(0.915,1)" text-anchor="middle" font-size="13.8">-0.2</text>
<line x1="657" y1="260.5" x2="665" y2="260.5" stroke="#000"/>
<text transform="translate(647,260.5) rotate(-90) scale(0.915,1)" text-anchor="middle" font-size="13.8">-0.1</text>
<line x1="657" y1="211.5" x2="665" y2="211.5" stroke="#000"/>
<text transform="translate(647,211.5) rotate(-90) scale(0.915,1)" text-anchor="middle" font-size="13.8">0.0</text>
<line x1="657" y1="162.5" x2="665" y2="162.5" stroke="#000"/>
<text transform="translate(647,162.5) rotate(-90) scale(0.915,1)" text-anchor="middle" font-size="13.8">0.1</text>
<line x1="657" y1="113.5" x2="665" y2="113.5" stroke="#000"/>
<text transform="translate(647,113.5) rotate(-90) scale(0.915,1)" text-anchor="middle" font-size="13.8">0.2</text>
<rect x="1002.5" y="65.5" width="164" height="48" fill="#fff" stroke="#000"/>
<line x1="1014" y1="81" x2="1039" y2="81" stroke="#0000FF" stroke-width="2" shape-rendering="crispEdges"/>
<line x1="1014" y1="97.5" x2="1039" y2="97.5" stroke="#FFFF00" stroke-width="1" shape-rendering="crispEdges"/>
<text transform="translate(1050,86.5)" text-anchor="start" font-size="13.8" textLength="101.5" lengthAdjust="spacingAndGlyphs">VIRT stock return</text>
<text transform="translate(1050,102.5)" text-anchor="start" font-size="13.8" textLength="110.5" lengthAdjust="spacingAndGlyphs">GSPC stock return</text>
<text x="314.8" y="439.7" text-anchor="middle" font-size="16" font-weight="bold" textLength="345" lengthAdjust="spacingAndGlyphs">VIRT versus S&amp;P500 stock return distribution</text>
<path d="M74 708v2h1v-2zM75 708v2h1v-2zM76 708v2h1v-2zM77 708v2h1v-2zM78 708v2h1v-2zM79 708v2h1v-2zM80 708v2h1v-2zM81 708v2h1v-2zM82 708v2h1v-2zM83 708v2h1v-2zM84 708v2h1v-2zM85 708v2h1v-2zM86 708v2h1v-2zM87 708v2h1v-2zM88 708v2h1v-2zM89 708v2h1v-2zM90 708v2h1v-2zM91 708v2h1v-2zM92 708v2h1v-2zM93 708v2h1v-2zM94 708v2h1v-2zM95 708v2h1v-2zM96 708v2h1v-2zM97 708v2h1v-2zM98 708v2h1v-2zM99 708v2h1v-2zM100 708v2h1v-2zM101 708v2h1v-2zM102 708v2h1v-2zM103 708v2h1v-2zM104 708v2h1v-2zM105 708v2h1v-2zM106 708v2h1v-2zM107 708v2h1v-2zM108 708v2h1v-2zM109 708v2h1v-2zM110 708v2h1v-2zM111 708v2h1v-2zM112 708v2h1v-2zM113 708v2h1v-2zM114 708v2h1v-2zM115 708v2h1v-2zM116 708v2h1v-2zM117 708v2h1v-2zM118 708v2h1v-2zM119 708v2h1v-2zM120 708v2h1v-2zM121 708v2h1v-2zM122 708v2h1v-2zM123 708v2h1v-2zM124 708v2h1v-2zM125 708v2h1v-2zM126 708v2h1v-2zM127 708v2h1v-2zM128 708v2h1v-2zM129 708v2h1v-2zM130 708v2h1v-2zM131 708v2h1v-2zM132 708v2h1v-2zM133 708v2h1v-2zM134 708v2h1v-2zM135 708v2h1v-2zM136 708v2h1v-2zM137 708v2h1v-2zM138 708v2h1v-2zM139 708v2h1v-2zM140 708v2h1v-2zM141 708v2h1v-2zM142 708v2h1v-2zM143 708v2h1v-2zM144 708v2h1v-2zM145 708v2h1v-2zM146 708v2h1v-2zM147 708v2h1v-2zM148 708v2h1v-2zM149 708v2h1v-2zM150 708v2h1v-2zM151 708v2h1v-2zM152 708v2h1v-2zM153 708v2h1v-2zM154 708v2h1v-2zM155 708v2h1v-2zM156 708v2h1v-2zM157 708v2h1v-2zM158 708v2h1v-2zM159 708v2h1v-2zM160 708v2h1v-2zM161 708v2h1v-2zM162 708v2h1v-2zM163 708v2h1v-2zM164 708v2h1v-2zM165 708v2h1v-2zM166 708v2h1v-2zM167 708v2h1v-2zM168 708v2h1v-2zM169 708v2h1v-2zM170 708v2h1v-2zM171 708v2h1v-2zM172 708v2h1v-2zM173 708v2h1v-2zM174 708v2h1v-2zM175 708v2h1v-2zM176 708v2h1v-2zM177 708v2h1v-2zM178 708v2h1v-2zM179 708v2h1v-2zM180 708v2h1v-2zM181 708v2h1v-2zM182 708v2h1v-2zM183 708v2h1v-2zM184 708v2h1v-2zM185 708v2h1v-2zM186 708v2h1v-2zM187 708v2h1v-2zM188 708v2h1v-2zM189 708v2h1v-2zM190 708v2h1v-2zM191 708v2h1v-2zM192 708v2h1v-2zM193 707v3h1v-3zM194 707v3h1v-3zM195 707v2h1v-2zM196 707v2h1v-2zM197 707v2h1v-2zM198 707v2h1v-2zM199 707v2h1v-2zM200 707v2h1v-2zM201 707v2h1v-2zM202 707v2h1v-2zM203 707v2h1v-2zM204 707v2h1v-2zM205 707v3h1v-3zM206 707v3h1v-3zM207 708v2h1v-2zM208 707v3h1v-3zM209 707v3h1v-3zM210 707v2h1v-2zM211 707v2h1v-2zM212 707v2h1v-2zM213 706v3h1v-3zM214 706v3h1v-3zM215 706v2h1v-2zM216 706v2h1v-2zM217 706v2h1v-2zM218 706v2h1v-2zM219 706v2h1v-2zM220 706v2h1v-2zM221 706v2h1v-2zM222 706v2h1v-2zM223 706v2h1v-2zM224 706v2h1v-2zM225 706v2h1v-2zM226 706v2h1v-2zM227 706v2h1v-2zM228 706v2h1v-2zM229 706v2h1v-2zM230 706v2h1v-2zM231 705v3h1v-3zM232 704v4h1v-4zM233 704v3h1v-3zM234 703v3h1v-3zM235 702v4h1v-4zM236 701v4h1v-4zM237 701v3h1v-3zM238 700v3h1v-3zM239 699v4h1v-4zM240 698v4h1v-4zM241 698v3h1v-3zM242 697v3h1v-3zM243 697v3h1v-3zM244 696v3h1v-3zM245 695v4h1v-4zM246 695v3h1v-3zM247 694v3h1v-3zM248 694v3h1v-3zM249 692v4h1v-4zM250 690v6h1v-6zM251 688v6h1v-6zM252 685v7h1v-7zM253 681v9h1v-9zM254 677v10h1v-10zM255 673v10h1v-10zM256 670v9h1v-9zM257 668v7h1v-7zM258 665v7h1v-7zM259 662v8h1v-8zM260 659v8h1v-8zM261 656v8h1v-8zM262 654v7h1v-7zM263 651v7h1v-7zM264 648v8h1v-8zM265 645v8h1v-8zM266 643v7h1v-7zM267 639v8h1v-8zM268 636v9h1v-9zM269 633v8h1v-8zM270 629v9h1v-9zM271 626v9h1v-9zM272 624v7h1v-7zM273 622v6h1v-6zM274 620v6h1v-6zM275 619v5h1v-5zM276 618v4h1v-4zM277 617v4h1v-4zM278 617v3h1v-3zM279 617v4h1v-4zM280 618v4h1v-4zM281 619v6h1v-6zM282 620v7h1v-7zM283 623v7h1v-7zM284 625v8h1v-8zM285 628v8h1v-8zM286 631v8h1v-8zM287 634v8h1v-8zM288 637v8h1v-8zM289 640v8h1v-8zM290 643v8h1v-8zM291 646v8h1v-8zM292 649v9h1v-9zM293 652v9h1v-9zM294 656v8h1v-8zM295 659v9h1v-9zM296 662v9h1v-9zM297 666v8h1v-8zM298 669v8h1v-8zM299 672v9h1v-9zM300 675v8h1v-8zM301 679v7h1v-7zM302 681v8h1v-8zM303 684v7h1v-7zM304 687v7h1v-7zM305 689v6h1v-6zM306 692v4h1v-4zM307 693v4h1v-4zM308 694v4h1v-4zM309 695v4h1v-4zM310 696v4h1v-4zM311 697v3h1v-3zM312 698v3h1v-3zM313 698v3h1v-3zM314 699v3h1v-3zM315 699v4h1v-4zM316 700v3h1v-3zM317 701v3h1v-3zM318 701v3h1v-3zM319 702v2h1v-2zM320 702v3h1v-3zM321 702v3h1v-3zM322 703v3h1v-3zM323 703v3h1v-3zM324 704v3h1v-3zM325 704v3h1v-3zM326 705v3h1v-3zM327 705v3h1v-3zM328 706v2h1v-2zM329 706v2h1v-2zM330 706v2h1v-2zM331 706v2h1v-2zM332 706v2h1v-2zM333 706v2h1v-2zM334 706v2h1v-2zM335 706v2h1v-2zM336 706v2h1v-2zM337 706v2h1v-2zM338 706v2h1v-2zM339 706v2h1v-2zM340 706v2h1v-2zM341 706v2h1v-2zM342 706v2h1v-2zM343 706v3h1v-3zM344 706v3h1v-3zM345 707v2h1v-2zM346 707v2h1v-2zM347 707v2h1v-2zM348 707v2h1v-2zM349 707v2h1v-2zM350 707v2h1v-2zM351 707v3h1v-3zM352 707v3h1v-3zM353 708v2h1v-2zM354 708v2h1v-2zM355 708v2h1v-2zM356 708v2h1v-2zM357 708v2h1v-2zM358 708v2h1v-2zM359 708v2h1v-2zM360 708v2h1v-2zM361 708v2h1v-2zM362 708v2h1v-2zM363 708v2h1v-2zM364 708v2h1v-2zM365 707v3h1v-3zM366 707v3h1v-3zM367 707v2h1v-2zM368 707v2h1v-2zM369 707v2h1v-2zM370 707v2h1v-2zM371 707v2h1v-2zM372 707v3h1v-3zM373 707v3h1v-3zM374 708v2h1v-2zM375 708v2h1v-2zM376 708v2h1v-2zM377 708v2h1v-2zM378 708v2h1v-2zM379 708v2h1v-2zM380 708v2h1v-2zM381 708v2h1v-2zM382 708v2h1v-2zM383 708v2h1v-2zM384 708v2h1v-2zM385 708v2h1v-2zM386 708v2h1v-2zM387 708v2h1v-2zM388 708v2h1v-2zM389 708v2h1v-2zM390 708v2h1v-2zM391 708v2h1v-2zM392 708v2h1v-2zM393 708v2h1v-2zM394 708v2h1v-2zM395 708v2h1v-2zM396 708v2h1v-2zM397 708v2h1v-2zM398 708v2h1v-2zM399 708v2h1v-2zM400 708v2h1v-2zM401 708v2h1v-2zM402 708v2h1v-2zM403 708v2h1v-2zM404 708v2h1v-2zM405 708v2h1v-2zM406 708v2h1v-2zM407 708v2h1v-2zM408 708v2h1v-2zM409 708v2h1v-2zM410 708v2h1v-2zM411 708v2h1v-2zM412 708v2h1v-2zM413 708v2h1v-2zM414 708v2h1v-2zM415 708v2h1v-2zM416 708v2h1v-2zM417 708v2h1v-2zM418 708v2h1v-2zM419 708v2h1v-2zM420 708v2h1v-2zM421 708v2h1v-2zM422 708v2h1v-2zM423 708v2h1v-2zM424 708v2h1v-2zM425 708v2h1v-2zM426 708v2h1v-2zM427 708v2h1v-2zM428 708v2h1v-2zM429 708v2h1v-2zM430 708v2h1v-2zM431 708v2h1v-2zM432 708v2h1v-2zM433 708v2h1v-2zM434 708v2h1v-2zM435 708v2h1v-2zM436 708v2h1v-2zM437 708v2h1v-2zM438 708v2h1v-2zM439 708v2h1v-2zM440 708v2h1v-2zM441 708v2h1v-2zM442 708v2h1v-2zM443 708v2h1v-2zM444 708v2h1v-2zM445 708v2h1v-2zM446 708v2h1v-2zM447 708v2h1v-2zM448 708v2h1v-2zM449 708v2h1v-2zM450 708v2h1v-2zM451 708v2h1v-2zM452 708v2h1v-2zM453 708v2h1v-2zM454 708v2h1v-2zM455 708v2h1v-2zM456 708v2h1v-2zM457 708v2h1v-2zM458 708v2h1v-2zM459 708v2h1v-2zM460 708v2h1v-2zM461 708v2h1v-2zM462 708v2h1v-2zM463 708v2h1v-2zM464 708v2h1v-2zM465 708v2h1v-2zM466 708v2h1v-2zM467 708v2h1v-2zM468 708v2h1v-2zM469 708v2h1v-2zM470 708v2h1v-2zM471 708v2h1v-2zM472 708v2h1v-2zM473 708v2h1v-2zM474 708v2h1v-2zM475 708v2h1v-2zM476 708v2h1v-2zM477 708v2h1v-2zM478 708v2h1v-2zM479 708v2h1v-2zM480 708v2h1v-2zM481 708v2h1v-2zM482 708v2h1v-2zM483 708v2h1v-2zM484 708v2h1v-2zM485 708v2h1v-2zM486 708v2h1v-2zM487 708v2h1v-2zM488 708v2h1v-2zM489 708v2h1v-2zM490 708v2h1v-2zM491 708v2h1v-2zM492 708v2h1v-2zM493 708v2h1v-2zM494 708v2h1v-2zM495 708v2h1v-2zM496 708v2h1v-2zM497 708v2h1v-2zM498 708v2h1v-2zM499 708v2h1v-2zM500 708v2h1v-2zM501 708v2h1v-2zM502 708v2h1v-2zM503 708v2h1v-2zM504 708v2h1v-2zM505 708v2h1v-2zM506 708v2h1v-2zM507 708v2h1v-2zM508 708v2h1v-2zM509 708v2h1v-2zM510 708v2h1v-2zM511 708v2h1v-2zM512 708v2h1v-2zM513 708v2h1v-2zM514 708v2h1v-2zM515 708v2h1v-2zM516 708v2h1v-2zM517 708v2h1v-2zM518 708v2h1v-2zM519 708v2h1v-2zM520 708v2h1v-2zM521 708v2h1v-2zM522 708v2h1v-2zM523 708v2h1v-2zM524 708v2h1v-2zM525 708v2h1v-2zM526 708v2h1v-2zM527 708v2h1v-2zM528 708v2h1v-2zM529 708v2h1v-2zM530 708v2h1v-2zM531 708v2h1v-2zM532 708v2h1v-2zM533 708v2h1v-2zM534 708v2h1v-2zM535 708v2h1v-2zM536 708v2h1v-2zM537 708v2h1v-2zM538 708v2h1v-2zM539 708v2h1v-2zM540 708v2h1v-2zM541 708v2h1v-2zM542 708v2h1v-2zM543 708v2h1v-2zM544 708v2h1v-2zM545 708v2h1v-2zM546 708v2h1v-2zM547 708v2h1v-2zM548 708v2h1v-2zM549 708v2h1v-2zM550 708v2h1v-2zM551 708v2h1v-2zM552 708v2h1v-2zM553 708v2h1v-2zM554 708v2h1v-2zM555 708v2h1v-2zM556 708v2h1v-2zM557 708v2h1v-2zM558 708v2h1v-2z" fill="#228B22"/>
<path d="M150 709v1h1v-1zM151 708v2h1v-2zM152 708v1h1v-1zM153 708v1h1v-1zM154 708v1h1v-1zM155 708v2h1v-2zM156 709v1h1v-1zM157 709v1h1v-1zM158 709v1h1v-1zM159 709v1h1v-1zM160 709v1h1v-1zM161 709v1h1v-1zM162 709v1h1v-1zM163 709v1h1v-1zM164 709v1h1v-1zM165 709v1h1v-1zM166 709v1h1v-1zM167 709v1h1v-1zM168 709v1h1v-1zM169 709v1h1v-1zM170 709v1h1v-1zM171 709v1h1v-1zM172 709v1h1v-1zM173 709v1h1v-1zM174 709v1h1v-1zM175 709v1h1v-1zM176 709v1h1v-1zM177 709v1h1v-1zM178 709v1h1v-1zM179 709v1h1v-1zM180 708v2h1v-2zM181 708v2h1v-2zM182 709v1h1v-1zM183 709v1h1v-1zM184 709v1h1v-1zM185 709v1h1v-1zM186 709v1h1v-1zM187 709v1h1v-1zM188 709v1h1v-1zM189 709v1h1v-1zM190 709v1h1v-1zM191 709v1h1v-1zM192 709v1h1v-1zM193 709v1h1v-1zM194 709v1h1v-1zM195 709v1h1v-1zM196 709v1h1v-1zM197 709v1h1v-1zM198 709v1h1v-1zM199 709v1h1v-1zM200 708v2h1v-2zM201 708v1h1v-1zM202 708v2h1v-2zM203 709v1h1v-1zM204 709v1h1v-1zM205 709v1h1v-1zM206 709v1h1v-1zM207 709v1h1v-1zM208 709v1h1v-1zM209 709v1h1v-1zM210 709v1h1v-1zM211 709v1h1v-1zM212 709v1h1v-1zM213 709v1h1v-1zM214 709v1h1v-1zM215 709v1h1v-1zM216 709v1h1v-1zM217 709v1h1v-1zM218 708v2h1v-2zM219 708v2h1v-2zM220 709v1h1v-1zM221 709v1h1v-1zM222 709v1h1v-1zM223 709v1h1v-1zM224 709v1h1v-1zM225 708v2h1v-2zM226 708v1h1v-1zM227 708v1h1v-1zM228 708v1h1v-1zM229 708v1h1v-1zM230 708v1h1v-1zM231 708v1h1v-1zM232 708v1h1v-1zM233 708v1h1v-1zM234 708v1h1v-1zM235 707v2h1v-2zM236 707v1h1v-1zM237 707v1h1v-1zM238 707v1h1v-1zM239 706v2h1v-2zM240 706v1h1v-1zM241 706v1h1v-1zM242 705v2h1v-2zM243 705v1h1v-1zM244 705v1h1v-1zM245 704v2h1v-2zM246 704v1h1v-1zM247 703v2h1v-2zM248 703v1h1v-1zM249 703v1h1v-1zM250 703v1h1v-1zM251 702v2h1v-2zM252 702v1h1v-1zM253 701v2h1v-2zM254 700v2h1v-2zM255 699v2h1v-2zM256 698v2h1v-2zM257 696v3h1v-3zM258 693v4h1v-4zM259 691v3h1v-3zM260 689v3h1v-3zM261 686v4h1v-4zM262 683v4h1v-4zM263 679v5h1v-5zM264 675v5h1v-5zM265 672v4h1v-4zM266 664v9h1v-9zM267 656v9h1v-9zM268 648v9h1v-9zM269 637v12h1v-12zM270 626v12h1v-12zM271 603v24h1v-24zM272 590v14h1v-14zM273 568v23h1v-23zM274 533v36h1v-36zM275 502v32h1v-32zM276 486v17h1v-17zM277 478v9h1v-9zM278 478v10h1v-10zM279 487v20h1v-20zM280 506v22h1v-22zM281 527v26h1v-26zM282 552v19h1v-19zM283 570v15h1v-15zM284 584v21h1v-21zM285 604v11h1v-11zM286 614v11h1v-11zM287 624v9h1v-9zM288 632v9h1v-9zM289 640v9h1v-9zM290 648v10h1v-10zM291 657v10h1v-10zM292 666v10h1v-10zM293 675v7h1v-7zM294 681v8h1v-8zM295 688v7h1v-7zM296 694v3h1v-3zM297 696v3h1v-3zM298 698v2h1v-2zM299 699v2h1v-2zM300 700v1h1v-1zM301 700v2h1v-2zM302 701v3h1v-3zM303 703v2h1v-2zM304 704v3h1v-3zM305 706v1h1v-1zM306 706v1h1v-1zM307 706v2h1v-2zM308 707v1h1v-1zM309 707v2h1v-2zM310 708v1h1v-1zM311 708v1h1v-1zM312 708v1h1v-1zM313 708v1h1v-1zM314 708v1h1v-1zM315 708v1h1v-1zM316 708v1h1v-1zM317 708v1h1v-1zM318 708v1h1v-1zM319 708v1h1v-1zM320 708v1h1v-1zM321 708v1h1v-1zM322 708v1h1v-1zM323 708v1h1v-1zM324 708v1h1v-1zM325 708v1h1v-1zM326 708v1h1v-1zM327 708v1h1v-1zM328 708v1h1v-1zM329 708v1h1v-1zM330 708v1h1v-1zM331 708v1h1v-1zM332 708v1h1v-1zM333 708v1h1v-1zM334 708v1h1v-1zM335 708v1h1v-1zM336 708v1h1v-1zM337 708v2h1v-2zM338 709v1h1v-1zM339 709v1h1v-1zM340 709v1h1v-1zM341 709v1h1v-1zM342 709v1h1v-1zM343 709v1h1v-1zM344 709v1h1v-1zM345 709v1h1v-1zM346 709v1h1v-1zM347 709v1h1v-1zM348 709v1h1v-1zM349 709v1h1v-1zM350 709v1h1v-1zM351 709v1h1v-1zM352 709v1h1v-1zM353 709v1h1v-1zM354 709v1h1v-1zM355 709v1h1v-1zM356 709v1h1v-1zM357 709v1h1v-1zM358 709v1h1v-1zM359 709v1h1v-1zM360 709v1h1v-1zM361 709v1h1v-1zM362 709v1h1v-1zM363 708v2h1v-2zM364 708v1h1v-1zM365 708v2h1v-2zM366 709v1h1v-1zM367 709v1h1v-1zM368 709v1h1v-1zM369 709v1h1v-1zM370 709v1h1v-1zM371 709v1h1v-1zM372 709v1h1v-1zM373 709v1h1v-1zM374 709v1h1v-1zM375 709v1h1v-1zM376 709v1h1v-1zM377 709v1h1v-1zM378 709v1h1v-1zM379 709v1h1v-1zM380 709v1h1v-1zM381 709v1h1v-1zM382 709v1h1v-1zM383 709v1h1v-1zM384 709v1h1v-1zM385 709v1h1v-1zM386 709v1h1v-1zM387 709v1h1v-1zM388 709v1h1v-1zM389 709v1h1v-1zM390 709v1h1v-1zM391 709v1h1v-1zM392 709v1h1v-1zM393 709v1h1v-1zM394 709v1h1v-1zM395 709v1h1v-1zM396 709v1h1v-1zM397 709v1h1v-1zM398 709v1h1v-1zM399 709v1h1v-1zM400 709v1h1v-1zM401 709v1h1v-1zM402 709v1h1v-1zM403 709v1h1v-1zM404 709v1h1v-1zM405 709v1h1v-1zM406 709v1h1v-1zM407 709v1h1v-1zM408 709v1h1v-1zM409 709v1h1v-1zM410 709v1h1v-1zM411 709v1h1v-1zM412 709v1h1v-1zM413 709v1h1v-1zM414 709v1h1v-1zM415 709v1h1v-1zM416 709v1h1v-1zM417 709v1h1v-1zM418 709v1h1v-1zM419 709v1h1v-1zM420 709v1h1v-1zM421 709v1h1v-1zM422 709v1h1v-1zM423 709v1h1v-1zM424 709v1h1v-1zM425 709v1h1v-1zM426 709v1h1v-1zM427 709v1h1v-1zM428 709v1h1v-1zM429 709v1h1v-1zM430 709v1h1v-1zM431 709v1h1v-1zM432 709v1h1v-1zM433 709v1h1v-1zM434 709v1h1v-1zM435 709v1h1v-1zM436 709v1h1v-1zM437 709v1h1v-1zM438 709v1h1v-1zM439 709v1h1v-1zM440 709v1h1v-1zM441 709v1h1v-1zM442 709v1h1v-1zM443 709v1h1v-1zM444 709v1h1v-1zM445 709v1h1v-1zM446 709v1h1v-1zM447 709v1h1v-1zM448 709v1h1v-1zM449 709v1h1v-1zM450 709v1h1v-1zM451 709v1h1v-1zM452 709v1h1v-1zM453 709v1h1v-1zM454 709v1h1v-1zM455 709v1h1v-1zM456 709v1h1v-1zM457 709v1h1v-1zM458 709v1h1v-1zM459 709v1h1v-1zM460 709v1h1v-1zM461 709v1h1v-1zM462 709v1h1v-1zM463 709v1h1v-1zM464 709v1h1v-1zM465 709v1h1v-1zM466 709v1h1v-1zM467 709v1h1v-1zM468 709v1h1v-1zM469 709v1h1v-1zM470 709v1h1v-1z" fill="#FFA500"/>
<line x1="66" y1="709.5" x2="566" y2="709.5" stroke="#BEBEBE"/>
<rect x="65.5" y="465.5" width="501" height="253" fill="none" stroke="#000" stroke-width="1"/>
<line x1="84.5" y1="719" x2="84.5" y2="727" stroke="#000"/>
<text transform="translate(83.99999999999997,748) scale(0.915,1)" text-anchor="middle" font-size="13.8">-0.2</text>
<line x1="181.5" y1="719" x2="181.5" y2="727" stroke="#000"/>
<text transform="translate(180.7,748) scale(0.915,1)" text-anchor="middle" font-size="13.8">-0.1</text>
<line x1="277.5" y1="719" x2="277.5" y2="727" stroke="#000"/>
<text transform="translate(277.4,748) scale(0.915,1)" text-anchor="middle" font-size="13.8">0.0</text>
<line x1="374.5" y1="719" x2="374.5" y2="727" stroke="#000"/>
<text transform="translate(374.09999999999997,748) scale(0.915,1)" text-anchor="middle" font-size="13.8">0.1</text>
<line x1="471.5" y1="719" x2="471.5" y2="727" stroke="#000"/>
<text transform="translate(470.79999999999995,748) scale(0.915,1)" text-anchor="middle" font-size="13.8">0.2</text>
<line x1="57" y1="709.5" x2="65" y2="709.5" stroke="#000"/>
<text transform="translate(47,709.5) rotate(-90) scale(0.915,1)" text-anchor="middle" font-size="13.8">0</text>
<line x1="57" y1="673.5" x2="65" y2="673.5" stroke="#000"/>
<text transform="translate(47,673.12) rotate(-90) scale(0.915,1)" text-anchor="middle" font-size="13.8">10</text>
<line x1="57" y1="636.5" x2="65" y2="636.5" stroke="#000"/>
<text transform="translate(47,636.74) rotate(-90) scale(0.915,1)" text-anchor="middle" font-size="13.8">20</text>
<line x1="57" y1="600.5" x2="65" y2="600.5" stroke="#000"/>
<text transform="translate(47,600.36) rotate(-90) scale(0.915,1)" text-anchor="middle" font-size="13.8">30</text>
<line x1="57" y1="563.5" x2="65" y2="563.5" stroke="#000"/>
<text transform="translate(47,563.98) rotate(-90) scale(0.915,1)" text-anchor="middle" font-size="13.8">40</text>
<line x1="57" y1="527.5" x2="65" y2="527.5" stroke="#000"/>
<text transform="translate(47,527.6) rotate(-90) scale(0.915,1)" text-anchor="middle" font-size="13.8">50</text>
<line x1="57" y1="491.5" x2="65" y2="491.5" stroke="#000"/>
<text transform="translate(47,491.22) rotate(-90) scale(0.915,1)" text-anchor="middle" font-size="13.8">60</text>
<rect x="65.5" y="465.5" width="195" height="48" fill="#fff" stroke="#000"/>
<line x1="77" y1="481" x2="102" y2="481" stroke="#228B22" stroke-width="2" shape-rendering="crispEdges"/>
<line x1="77" y1="497.5" x2="102" y2="497.5" stroke="#FFA500" stroke-width="1" shape-rendering="crispEdges"/>
<text transform="translate(113,486.5)" text-anchor="start" font-size="13.8" textLength="132.5" lengthAdjust="spacingAndGlyphs">VIRT return distribution</text>
<text transform="translate(113,502.5)" text-anchor="start" font-size="13.8" textLength="140.8" lengthAdjust="spacingAndGlyphs">GSPC return distribution</text>
<text x="914.8" y="439.7" text-anchor="middle" font-size="16" font-weight="bold" textLength="379.5" lengthAdjust="spacingAndGlyphs">VIRT versus S&amp;P500 return frequency distribution</text>
<line x1="683.0" y1="716.5" x2="689.0" y2="716.5" stroke="#000"/>
<line x1="688.0" y1="716.5" x2="695.0" y2="716.5" stroke="#000"/>
<line x1="699.0" y1="716.5" x2="705.0" y2="716.5" stroke="#000"/>
<line x1="704.0" y1="716.5" x2="710.0" y2="716.5" stroke="#000"/>
<line x1="715.0" y1="716.5" x2="721.0" y2="716.5" stroke="#000"/>
<line x1="720.0" y1="716.5" x2="726.0" y2="716.5" stroke="#000"/>
<line x1="730.0" y1="716.5" x2="736.0" y2="716.5" stroke="#000"/>
<line x1="735.0" y1="716.5" x2="742.0" y2="716.5" stroke="#000"/>
<line x1="746.0" y1="716.5" x2="752.0" y2="716.5" stroke="#000"/>
<line x1="751.0" y1="716.5" x2="757.0" y2="716.5" stroke="#000"/>
<line x1="762.0" y1="716.5" x2="768.0" y2="716.5" stroke="#000"/>
<line x1="767.0" y1="716.5" x2="773.0" y2="716.5" stroke="#000"/>
<rect x="777.5" y="715.5" width="5.0" height="1.0" fill="#0000FF" stroke="#000"/>
<line x1="782.0" y1="716.5" x2="789.0" y2="716.5" stroke="#000"/>
<rect x="793.5" y="715.5" width="5.0" height="1.0" fill="#0000FF" stroke="#000"/>
<line x1="798.0" y1="716.5" x2="804.0" y2="716.5" stroke="#000"/>
<rect x="809.5" y="714.5" width="5.0" height="2.0" fill="#0000FF" stroke="#000"/>
<line x1="814.0" y1="716.5" x2="820.0" y2="716.5" stroke="#000"/>
<rect x="824.5" y="711.5" width="5.0" height="5.0" fill="#0000FF" stroke="#000"/>
<rect x="829.5" y="715.5" width="6.0" height="1.0" fill="#FFFF00" stroke="#000"/>
<rect x="840.5" y="695.5" width="5.0" height="21.0" fill="#0000FF" stroke="#000"/>
<rect x="845.5" y="709.5" width="5.0" height="7.0" fill="#FFFF00" stroke="#000"/>
<rect x="856.5" y="638.5" width="5.0" height="78.0" fill="#0000FF" stroke="#000"/>
<rect x="861.5" y="676.5" width="5.0" height="40.0" fill="#FFFF00" stroke="#000"/>
<rect x="871.5" y="573.5" width="5.0" height="143.0" fill="#0000FF" stroke="#000"/>
<rect x="876.5" y="465.5" width="6.0" height="251.0" fill="#FFFF00" stroke="#000"/>
<rect x="887.5" y="625.5" width="5.0" height="91.0" fill="#0000FF" stroke="#000"/>
<rect x="892.5" y="646.5" width="5.0" height="70.0" fill="#FFFF00" stroke="#000"/>
<rect x="902.5" y="691.5" width="6.0" height="25.0" fill="#0000FF" stroke="#000"/>
<rect x="908.5" y="711.5" width="5.0" height="5.0" fill="#FFFF00" stroke="#000"/>
<rect x="918.5" y="709.5" width="5.0" height="7.0" fill="#0000FF" stroke="#000"/>
<rect x="923.5" y="715.5" width="6.0" height="1.0" fill="#FFFF00" stroke="#000"/>
<rect x="934.5" y="713.5" width="5.0" height="3.0" fill="#0000FF" stroke="#000"/>
<line x1="939.0" y1="716.5" x2="945.0" y2="716.5" stroke="#000"/>
<rect x="949.5" y="715.5" width="6.0" height="1.0" fill="#0000FF" stroke="#000"/>
<line x1="955.0" y1="716.5" x2="961.0" y2="716.5" stroke="#000"/>
<rect x="965.5" y="715.5" width="5.0" height="1.0" fill="#0000FF" stroke="#000"/>
<line x1="970.0" y1="716.5" x2="977.0" y2="716.5" stroke="#000"/>
<line x1="981.0" y1="716.5" x2="987.0" y2="716.5" stroke="#000"/>
<line x1="986.0" y1="716.5" x2="992.0" y2="716.5" stroke="#000"/>
<line x1="996.0" y1="716.5" x2="1003.0" y2="716.5" stroke="#000"/>
<line x1="1002.0" y1="716.5" x2="1008.0" y2="716.5" stroke="#000"/>
<line x1="1012.0" y1="716.5" x2="1018.0" y2="716.5" stroke="#000"/>
<line x1="1017.0" y1="716.5" x2="1024.0" y2="716.5" stroke="#000"/>
<line x1="1028.0" y1="716.5" x2="1034.0" y2="716.5" stroke="#000"/>
<line x1="1033.0" y1="716.5" x2="1039.0" y2="716.5" stroke="#000"/>
<line x1="1043.0" y1="716.5" x2="1050.0" y2="716.5" stroke="#000"/>
<line x1="1049.0" y1="716.5" x2="1055.0" y2="716.5" stroke="#000"/>
<line x1="1059.0" y1="716.5" x2="1065.0" y2="716.5" stroke="#000"/>
<line x1="1064.0" y1="716.5" x2="1071.0" y2="716.5" stroke="#000"/>
<line x1="1075.0" y1="716.5" x2="1081.0" y2="716.5" stroke="#000"/>
<line x1="1080.0" y1="716.5" x2="1086.0" y2="716.5" stroke="#000"/>
<line x1="1090.0" y1="716.5" x2="1097.0" y2="716.5" stroke="#000"/>
<line x1="1096.0" y1="716.5" x2="1102.0" y2="716.5" stroke="#000"/>
<line x1="1106.0" y1="716.5" x2="1112.0" y2="716.5" stroke="#000"/>
<line x1="1111.0" y1="716.5" x2="1118.0" y2="716.5" stroke="#000"/>
<line x1="1122.0" y1="716.5" x2="1128.0" y2="716.5" stroke="#000"/>
<line x1="1127.0" y1="716.5" x2="1133.0" y2="716.5" stroke="#000"/>
<line x1="1137.0" y1="716.5" x2="1144.0" y2="716.5" stroke="#000"/>
<line x1="1143.0" y1="716.5" x2="1149.0" y2="716.5" stroke="#000"/>
<rect x="665.5" y="465.5" width="501" height="253" fill="none" stroke="#000" stroke-width="1"/>
<line x1="657" y1="716.5" x2="665" y2="716.5" stroke="#000"/>
<text transform="translate(647,716.25) rotate(-90) scale(0.915,1)" text-anchor="middle" font-size="13.8">0</text>
<line x1="657" y1="640.5" x2="665" y2="640.5" stroke="#000"/>
<text transform="translate(647,640.25) rotate(-90) scale(0.915,1)" text-anchor="middle" font-size="13.8">500</text>
<line x1="657" y1="564.5" x2="665" y2="564.5" stroke="#000"/>
<text transform="translate(647,564.25) rotate(-90) scale(0.915,1)" text-anchor="middle" font-size="13.8">1000</text>
<line x1="657" y1="488.5" x2="665" y2="488.5" stroke="#000"/>
<text transform="translate(647,488.25) rotate(-90) scale(0.915,1)" text-anchor="middle" font-size="13.8">1500</text>
<text transform="translate(689.375,748)" text-anchor="middle" font-size="13.8" textLength="71.35" lengthAdjust="spacingAndGlyphs">[-0.2,-0.184)</text>
<text transform="translate(781.875,748)" text-anchor="middle" font-size="13.8" textLength="91.85" lengthAdjust="spacingAndGlyphs">[-0.104,-0.0885)</text>
<text transform="translate(891.875,748)" text-anchor="middle" font-size="13.8" textLength="97.85" lengthAdjust="spacingAndGlyphs">[0.00738,0.0234)</text>
<text transform="translate(1001.5,748)" text-anchor="middle" font-size="13.8" textLength="77.1" lengthAdjust="spacingAndGlyphs">[0.119,0.135)</text>
<text transform="translate(1095.375,748)" text-anchor="middle" font-size="13.8" textLength="77.35" lengthAdjust="spacingAndGlyphs">[0.215,0.231)</text>
<text transform="translate(914.8,780) scale(0.915,1)" text-anchor="middle" font-size="13.8">return</text>
<text transform="translate(615.2,593.2) rotate(-90)" text-anchor="middle" font-size="13.8" textLength="57" lengthAdjust="spacingAndGlyphs">frequency</text>
<rect x="993.5" y="465.5" width="173" height="48" fill="#fff" stroke="#000"/>
<rect x="1005.5" y="477.5" width="9" height="8" fill="#0000FF" stroke="#000" shape-rendering="crispEdges"/>
<rect x="1005.5" y="493.5" width="9" height="8" fill="#FFFF00" stroke="#000" shape-rendering="crispEdges"/>
<text transform="translate(1026,486.5)" text-anchor="start" font-size="13.8" textLength="125.2" lengthAdjust="spacingAndGlyphs">VIRT return frequency</text>
<text transform="translate(1026,502.5)" text-anchor="start" font-size="13.8" textLength="134.7" lengthAdjust="spacingAndGlyphs">GSPC return frequency</text>
</g>
</svg>
</body></html>
